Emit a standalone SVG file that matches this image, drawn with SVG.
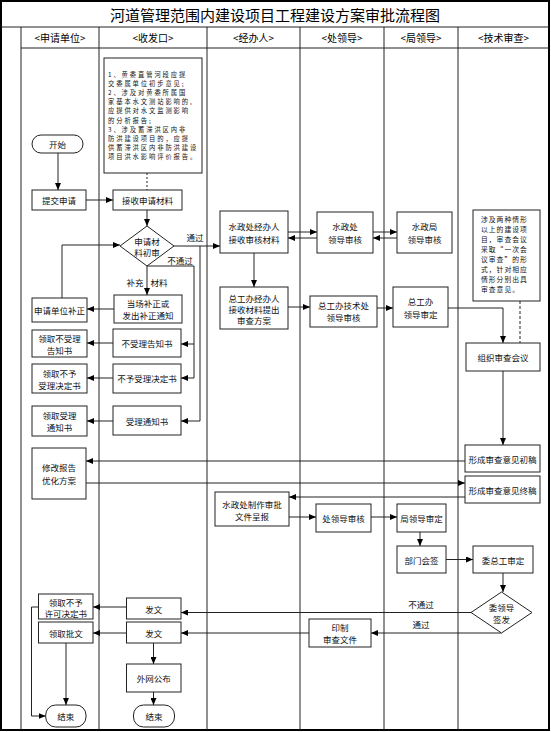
<svg xmlns="http://www.w3.org/2000/svg" width="551" height="732" viewBox="0 0 551 732">
<style>
.bg{fill:#fff}
.frame{fill:none;stroke:#000;stroke-width:2}
.lane{stroke:#222;stroke-width:1}
.box{fill:#fff;stroke:#222;stroke-width:1}
.t{font-family:"Noto Sans CJK SC","Noto Sans CJK JP",sans-serif;font-size:8.5px;fill:#111;text-anchor:middle;dominant-baseline:central}
.nt{font-family:"Noto Sans CJK SC","Noto Sans CJK JP",sans-serif;font-size:6.3px;letter-spacing:1.9px;fill:#111;dominant-baseline:central}
.nt2{font-family:"Noto Sans CJK SC","Noto Sans CJK JP",sans-serif;font-size:6.8px;letter-spacing:1px;fill:#111;dominant-baseline:central}
.hd{font-family:"Noto Sans CJK SC","Noto Sans CJK JP",sans-serif;font-size:10px;fill:#000;text-anchor:middle;dominant-baseline:central}
.title{font-family:"Noto Sans CJK SC","Noto Sans CJK JP",sans-serif;font-size:15px;fill:#000;text-anchor:middle;dominant-baseline:central}
.c{fill:none;stroke:#222;stroke-width:1}
.a{marker-end:url(#arr)}
.dot{stroke-dasharray:2,2}
.dash{stroke-dasharray:3,2}
</style>
<defs>
<marker id="arr" markerWidth="7" markerHeight="6" refX="7" refY="3" orient="auto" markerUnits="userSpaceOnUse">
<path d="M0,0 L7,3 L0,6 z" fill="#000"/>
</marker>
</defs>
<rect class="bg" x="0" y="0" width="551" height="732"/>
<g id="lanes">
<rect class="frame" x="1" y="1" width="548" height="729"/>
<line class="lane" x1="1" y1="27" x2="549" y2="27"/>
<line class="lane" x1="21" y1="48" x2="549" y2="48"/>
<line class="lane" x1="21" y1="27" x2="21" y2="730"/>
<line class="lane" x1="99" y1="27" x2="99" y2="730"/>
<line class="lane" x1="207" y1="27" x2="207" y2="730"/>
<line class="lane" x1="300" y1="27" x2="300" y2="730"/>
<line class="lane" x1="384" y1="27" x2="384" y2="730"/>
<line class="lane" x1="458" y1="27" x2="458" y2="730"/>
<text class="title" x="275" y="14">河道管理范围内建设项目工程建设方案审批流程图</text>
<text class="hd" x="60" y="37.5">&lt;申请单位&gt;</text>
<text class="hd" x="153" y="37.5">&lt;收发口&gt;</text>
<text class="hd" x="253.5" y="37.5">&lt;经办人&gt;</text>
<text class="hd" x="342" y="37.5">&lt;处领导&gt;</text>
<text class="hd" x="421" y="37.5">&lt;局领导&gt;</text>
<text class="hd" x="503.5" y="37.5">&lt;技术审查&gt;</text>
</g>
<g id="connectors">
<path class="c a" d="M58,153 V190"/>
<path class="c a" d="M86,200 H113"/>
<path class="c dot" d="M147,173 V190"/>
<path class="c a" d="M147,210 V226"/>
<path class="c a" d="M174,246 H220"/>
<path class="c a" d="M200,246 V421 H181"/>
<path class="c a" d="M147,266 H194 V378 H181"/>
<path class="c a" d="M194,344 H181"/>
<path class="c a" d="M147,266 V295"/>
<path class="c a" d="M114,309 H87"/>
<path class="c a" d="M62,298 V245 H120"/>
<path class="c a" d="M113,343 H87"/>
<path class="c a" d="M113,378 H87"/>
<path class="c a" d="M113,421 H87"/>
<path class="c a" d="M288,232 H317"/>
<path class="c a" d="M317,238 H288"/>
<path class="c a" d="M373,232 H397"/>
<path class="c a" d="M397,238 H373"/>
<path class="c a" d="M254,253 V287"/>
<path class="c a" d="M288,307 H310"/>
<path class="c a" d="M377,308 H393"/>
<path class="c a" d="M448,308 H503 V343"/>
<path class="c dash" d="M520,301 V343"/>
<path class="c a" d="M503,371 V445"/>
<path class="c a" d="M465,461 H86"/>
<path class="c a" d="M86,483 H465"/>
<path class="c a" d="M465,497 H289"/>
<path class="c a" d="M289,517 H316"/>
<path class="c a" d="M371,517 H397"/>
<path class="c a" d="M420,532 V546"/>
<path class="c a" d="M446,559.5 H473"/>
<path class="c a" d="M503,573 V592"/>
<path class="c a" d="M471,612.5 H181"/>
<path class="c a" d="M501.5,633 H371"/>
<path class="c a" d="M309,633 H181"/>
<path class="c a" d="M126.5,607 H93"/>
<path class="c a" d="M126.5,633 H93"/>
<path class="c a" d="M153.5,643 V664"/>
<path class="c a" d="M153.5,692 V705"/>
<path class="c a" d="M66,643 V705"/>
<path class="c a" d="M38.5,607 H31.5 V716 H45.7"/>
<text class="t" x="195" y="237">通过</text>
<text class="t" x="180" y="260">不通过</text>
<text class="t" x="135" y="282">补充</text>
<text class="t" x="159" y="282">材料</text>
<text class="t" x="421" y="604">不通过</text>
<text class="t" x="421" y="624">通过</text>
</g>
<g id="n_start"><rect class="box" x="32" y="135" width="51" height="18" rx="9"/><text class="t" x="57.5" y="144">开始</text></g>
<g id="n_submit"><rect class="box" x="32" y="190" width="54" height="20"/><text class="t" x="59" y="200">提交申请</text></g>
<g id="n_receive"><rect class="box" x="113" y="190" width="69" height="20"/><text class="t" x="147.5" y="200">接收申请材料</text></g>
<g id="n_note1"><rect class="box" x="104" y="58" width="98" height="115"/>
<text class="nt" x="108" y="74">1、黄委直管河段应提</text>
<text class="nt" x="108" y="83.2">交委属单位初步意见;</text>
<text class="nt" x="108" y="92.4">2、涉及对黄委所属国</text>
<text class="nt" x="108" y="101.6">家基本水文测站影响的,</text>
<text class="nt" x="108" y="110.8">应提供对水文监测影响</text>
<text class="nt" x="108" y="120">的分析报告;</text>
<text class="nt" x="108" y="129.2">3、涉及蓄滞洪区内非</text>
<text class="nt" x="108" y="138.4">防洪建设项目的，应提</text>
<text class="nt" x="108" y="147.6">供蓄滞洪区内非防洪建设</text>
<text class="nt" x="108" y="156.8">项目洪水影响评价报告。</text>
</g>
<g id="n_check"><polygon class="box" points="147,226 174,246 147,266 120,246"/><text class="t" x="147" y="240.5">申请材</text><text class="t" x="147" y="251.5">料初审</text></g>
<g id="n_correct"><rect class="box" x="114" y="295" width="68" height="28"/><text class="t" x="148" y="303">当场补正或</text><text class="t" x="148" y="315">发出补正通知</text></g>
<g id="n_applicant_fix"><rect class="box" x="32" y="298" width="55" height="24"/><text class="t" x="59.5" y="310">申请单位补正</text></g>
<g id="n_reject_notice"><rect class="box" x="113" y="329" width="68" height="28"/><text class="t" x="147" y="343">不受理告知书</text></g>
<g id="n_get_reject_notice"><rect class="box" x="32" y="330" width="55" height="27"/><text class="t" x="59.5" y="337.5">领取不受理</text><text class="t" x="59.5" y="349.5">告知书</text></g>
<g id="n_refuse"><rect class="box" x="113" y="364" width="68" height="29"/><text class="t" x="147" y="378">不予受理决定书</text></g>
<g id="n_get_refuse"><rect class="box" x="32" y="364" width="55" height="29"/><text class="t" x="59.5" y="372.5">领取不予</text><text class="t" x="59.5" y="384.5">受理决定书</text></g>
<g id="n_accept"><rect class="box" x="113" y="406" width="68" height="29"/><text class="t" x="147" y="421">受理通知书</text></g>
<g id="n_get_accept"><rect class="box" x="32" y="406" width="55" height="30"/><text class="t" x="59.5" y="414.5">领取受理</text><text class="t" x="59.5" y="427">通知书</text></g>
<g id="n_zb_staff"><rect class="box" x="220" y="211" width="68" height="42"/><text class="t" x="254" y="225.5">水政处经办人</text><text class="t" x="254" y="238.5">接收审核材料</text></g>
<g id="n_zb_lead"><rect class="box" x="317" y="212" width="56" height="41"/><text class="t" x="345" y="226">水政处</text><text class="t" x="345" y="239">领导审核</text></g>
<g id="n_bureau_lead"><rect class="box" x="397" y="212" width="55" height="41"/><text class="t" x="424.5" y="226">水政局</text><text class="t" x="424.5" y="239">领导审核</text></g>
<g id="n_zgb_staff"><rect class="box" x="220" y="287" width="68" height="42"/><text class="t" x="254" y="297.5">总工办经办人</text><text class="t" x="254" y="308.5">接收材料提出</text><text class="t" x="254" y="319.5">审查方案</text></g>
<g id="n_zgb_tech"><rect class="box" x="310" y="296" width="67" height="31"/><text class="t" x="343.5" y="305">总工办技术处</text><text class="t" x="343.5" y="317">领导审核</text></g>
<g id="n_zgb_lead"><rect class="box" x="393" y="287" width="55" height="40"/><text class="t" x="420.5" y="300.5">总工办</text><text class="t" x="420.5" y="313.5">领导审定</text></g>
<g id="n_note2"><rect class="box" x="473" y="210" width="67" height="91"/>
<text class="nt2" x="481" y="219">涉及两种情形</text>
<text class="nt2" x="481" y="229">以上的建设项</text>
<text class="nt2" x="481" y="239">目，审查会议</text>
<text class="nt2" x="481" y="249">采取“一次会</text>
<text class="nt2" x="481" y="259">议审查”的形</text>
<text class="nt2" x="481" y="269">式，针对相应</text>
<text class="nt2" x="481" y="279">情形分别出具</text>
<text class="nt2" x="481" y="289">审查意见。</text>
</g>
<g id="n_meeting"><rect class="box" x="466" y="343" width="74" height="28"/><text class="t" x="503" y="357">组织审查会议</text></g>
<g id="n_draft"><rect class="box" x="465" y="445" width="75" height="27"/><text class="t" x="502.5" y="458.5">形成审查意见初稿</text></g>
<g id="n_final"><rect class="box" x="465" y="476" width="75" height="27"/><text class="t" x="502.5" y="489.5">形成审查意见终稿</text></g>
<g id="n_revise"><rect class="box" x="32" y="448" width="54" height="51"/><text class="t" x="59" y="466.5">修改报告</text><text class="t" x="59" y="479.5">优化方案</text></g>
<g id="n_make"><rect class="box" x="215" y="492" width="74" height="34"/><text class="t" x="252" y="503.5">水政处制作审批</text><text class="t" x="252" y="515.5">文件呈报</text></g>
<g id="n_dept_review"><rect class="box" x="316" y="504" width="55" height="28"/><text class="t" x="343.5" y="518">处领导审核</text></g>
<g id="n_bureau_approve"><rect class="box" x="397" y="504" width="49" height="28"/><text class="t" x="421.5" y="518">局领导审定</text></g>
<g id="n_countersign"><rect class="box" x="397" y="546" width="49" height="27"/><text class="t" x="421.5" y="559.5">部门会签</text></g>
<g id="n_chief"><rect class="box" x="473" y="546" width="60" height="27"/><text class="t" x="503" y="559.5">委总工审定</text></g>
<g id="n_sign"><polygon class="box" points="501.5,592 532,612.5 501.5,633 471,612.5"/><text class="t" x="501.5" y="606.5">委领导</text><text class="t" x="501.5" y="618.5">签发</text></g>
<g id="n_print"><rect class="box" x="309" y="619" width="62" height="28"/><text class="t" x="340" y="627">印制</text><text class="t" x="340" y="639">审查文件</text></g>
<g id="n_issue1"><rect class="box" x="126.5" y="598" width="54.5" height="21"/><text class="t" x="153.75" y="608.5">发文</text></g>
<g id="n_issue2"><rect class="box" x="126.5" y="622" width="54.5" height="21"/><text class="t" x="153.75" y="632.5">发文</text></g>
<g id="n_get_refuse_permit"><rect class="box" x="38.5" y="594" width="54.5" height="25"/><text class="t" x="65.75" y="601.5">领取不予</text><text class="t" x="65.75" y="613">许可决定书</text></g>
<g id="n_get_approval"><rect class="box" x="38.5" y="622" width="54.5" height="21"/><text class="t" x="65.75" y="632.5">领取批文</text></g>
<g id="n_publish"><rect class="box" x="126.5" y="664" width="54.5" height="28"/><text class="t" x="153.75" y="678">外网公布</text></g>
<g id="n_end1"><rect class="box" x="45.7" y="705" width="40.3" height="22" rx="10"/><text class="t" x="65.85" y="716">结束</text></g>
<g id="n_end2"><rect class="box" x="133.5" y="705" width="41" height="22" rx="10"/><text class="t" x="154" y="716">结束</text></g>
</svg>
